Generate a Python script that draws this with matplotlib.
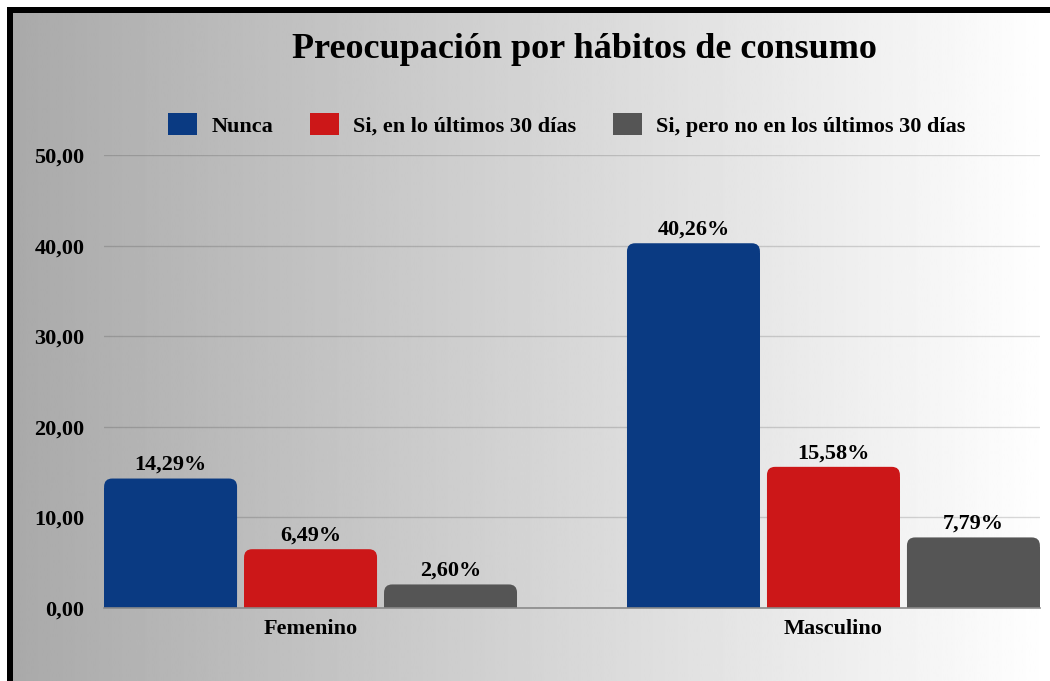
import numpy as np
import matplotlib
matplotlib.use("Agg")
import matplotlib.pyplot as plt
from matplotlib.patches import Rectangle, FancyBboxPatch, Patch

# ---- data ----
categories = ["Femenino", "Masculino"]
series_names = ["Nunca", "Si, en lo últimos 30 días", "Si, pero no en los últimos 30 días"]
nunca = [14.29, 40.26]
ultimos30 = [6.49, 15.58]
no_ultimos30 = [2.60, 7.79]
yticks = [0, 10, 20, 30, 40, 50]
title = "Preocupación por hábitos de consumo"

colors = ["#0a3a82", "#cc1718", "#555555"]
series = [nunca, ultimos30, no_ultimos30]

plt.rcParams['font.family'] = ['Liberation Serif', 'DejaVu Serif']
plt.rcParams['font.weight'] = 'bold'

W, H = 1050, 681
fig = plt.figure(figsize=(W / 100, H / 100), dpi=100)

# ---- background gradient + border ----
bg = fig.add_axes([0, 0, 1, 1], zorder=-10)
grad = np.linspace(0.66, 1.0, 512).reshape(1, -1)
bg.imshow(grad, cmap="gray", vmin=0, vmax=1, aspect="auto",
          extent=(0, W, H, 0), interpolation="bilinear")
bg.set_xlim(0, W)
bg.set_ylim(H, 0)
bg.add_patch(Rectangle((0, 0), 7, H, color="white", lw=0))
bg.add_patch(Rectangle((0, 0), W, 7, color="white", lw=0))
bg.add_patch(Rectangle((7, 7), 6, H, color="black", lw=0))
bg.add_patch(Rectangle((7, 7), W, 6, color="black", lw=0))
bg.axis("off")

# ---- main axes ----
ax = fig.add_axes([104 / W, 1 - 608 / H, 936 / W, 453 / H])
ax.set_facecolor("none")
x = np.arange(len(categories))
bw = 0.2543
step = 0.2677
ax.set_xlim(-0.395, 1.395)
ax.set_ylim(0, 50)

rx = 0.0155
ry = 0.9
for i, (vals, col) in enumerate(zip(series, colors)):
    pos = x + (i - 1) * step
    bars = ax.bar(pos, vals, width=bw, color=col, zorder=3, lw=0)
    for b, v in zip(bars, vals):
        bx, bwid, bh = b.get_x(), b.get_width(), b.get_height()
        b.set_height(max(bh - ry * 1.2, 0))
        ax.add_patch(FancyBboxPatch((bx, 0), bwid, bh,
                                    boxstyle=f"round,pad=0,rounding_size={rx}",
                                    mutation_aspect=ry / rx, fc=col, ec="none",
                                    zorder=3))
        ax.annotate(f"{v:.2f}%".replace(".", ","), (bx + bwid / 2, bh),
                    xytext=(0, 2.5), textcoords="offset points",
                    ha="center", va="bottom", fontsize=16, fontweight="bold",
                    color="black", zorder=5)

ax.set_yticks(yticks)
ax.set_yticklabels([f"{t:.2f}".replace(".", ",") for t in yticks])
ax.set_xticks(x)
ax.set_xticklabels(categories)
ax.tick_params(axis="both", length=0, labelsize=16, colors="black")
ax.tick_params(axis="y", pad=14)
ax.tick_params(axis="x", pad=8)
for lab in ax.get_xticklabels() + ax.get_yticklabels():
    lab.set_fontweight("bold")

ax.grid(axis="y", color="black", alpha=0.15, lw=1, zorder=0)
ax.set_axisbelow(True)
for s in ["top", "right", "left"]:
    ax.spines[s].set_visible(False)
ax.spines["bottom"].set_color("#8a8a8a")
ax.spines["bottom"].set_linewidth(1.2)
ax.spines["bottom"].set_zorder(4)

# ---- title & legend ----
fig.text(584 / W, 1 - 50 / H, title, ha="center", va="center",
         fontsize=26, fontweight="bold", color="black")

handles = [Patch(facecolor=c, edgecolor="none") for c in colors]
fig.legend(handles, series_names, loc="center", bbox_to_anchor=(567 / W, 1 - 125 / H),
           ncol=3, frameon=False, handlelength=1.3, handleheight=1.1,
           handletextpad=0.65, columnspacing=1.65, prop={"weight": "bold", "size": 16})

fig.savefig("out.png", dpi=100)
